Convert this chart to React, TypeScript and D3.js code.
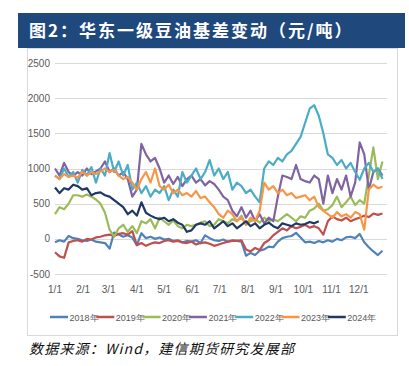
import * as d3 from 'd3';
import React from 'react';

// basis values sampled every 5 days from 1/1 (day 0) to 12/27 (day 360)
const STEP_DAYS = 5;

const s2018 = [-50, -20, -40, 40, 10, 0, -20, -30, -10, -40, -50, -60, -140, 90, 60, 30, 50, 20, -90, 80, 10, 30, 0, 20, -10, 0, -30, -20, -50, -30, -40, -20, -60, 50, 10, -20, -30, -10, -40, -20, -30, -40, -240, -200, -230, -170, -150, -110, -120, -40, 10, 30, 40, 85, 20, -50, -40, -60, -30, -50, -20, -40, 0, -20, 20, 30, 10, 70, -50, -120, -180, -230, -170];
const s2019 = [-190, -250, -270, -50, -30, -20, -40, 0, -10, 20, 30, 50, 60, 40, 70, 80, 60, 110, -90, -60, -100, -70, -50, -60, -30, -20, -40, -30, -50, -60, -40, -80, -60, -50, -70, -100, -80, -60, -40, -30, -30, -20, -150, -180, -130, -160, -60, -20, 50, 100, 150, 120, 180, 150, 170, 200, 160, 180, 150, 60, 250, 320, 280, 260, 300, 250, 280, 300, 330, 310, 360, 340, 360];
const s2020 = [350, 450, 420, 500, 620, 620, 600, 630, 600, 560, 500, 370, 130, 30, 150, 200, 100, 180, 80, 250, 220, 280, 150, 300, 250, 200, 260, 180, 150, 200, 180, 200, 230, 250, 180, 200, 280, 250, 220, 280, 250, 330, 200, 250, 280, 230, 300, 250, 280, 250, 300, 350, 300, 250, 320, 300, 400, 430, 500, 400, 420, 480, 600, 450, 520, 600, 480, 550, 500, 900, 1300, 850, 1100];
const s2021 = [1000, 900, 1080, 950, 900, 950, 900, 1000, 920, 960, 1000, 1100, 950, 1000, 900, 950, 850, 600, 700, 1350, 1200, 1100, 1150, 1000, 800, 900, 780, 880, 750, 850, 900, 800, 850, 760, 820, 780, 700, 600, 550, 400, 320, 450, 300, 400, 250, 350, 220, 300, 250, 600, 900, 880, 850, 1050, 850, 820, 800, 900, 850, 500, 900, 650, 850, 700, 900, 600, 800, 1370, 1200, 700, 950, 1000, 900];
const s2022 = [900, 850, 1000, 880, 950, 800, 980, 900, 1020, 800, 1000, 900, 1220, 950, 1100, 900, 1050, 700, 800, 650, 750, 600, 700, 650, 750, 550, 700, 600, 950, 800, 900, 1000, 850, 950, 1120, 900, 1000, 850, 950, 700, 800, 750, 650, 700, 600, 520, 1000, 1100, 1050, 1150, 1100, 1200, 1250, 1350, 1450, 1650, 1850, 1900, 1750, 1500, 1200, 1150, 1050, 1120, 1000, 1080, 950, 840, 1000, 1080, 950, 1000, 850];
const s2023 = [900, 850, 920, 880, 900, 870, 950, 900, 950, 920, 960, 1000, 950, 980, 900, 850, 880, 800, 700, 850, 950, 800, 1000, 750, 700, 770, 650, 700, 620, 650, 600, 680, 580, 600, 520, 450, 350, 300, 400, 350, 250, 300, 200, 300, 250, 400, 800, 700, 750, 650, 700, 620, 650, 580, 600, 620, 550, 600, 450, 400, 350, 300, 380, 320, 350, 300, 380, 350, 130, 700, 770, 720, 740];
const s2024 = [730, 650, 720, 700, 770, 750, 700, 720, 620, 650, 660, 620, 600, 550, 500, 450, 350, 400, 330, 520, 370, 330, 300, 280, 300, 250, 280, 230, 200, 100, 120, 200, 220, 200, 250, 150, 200, 250, 180, 220, 150, 200, 250, 180, 220, 150, 200, 230, 180, 150, 220, 200, 180, 220, 200, 210, 240, 220, 250];

const seriesNames = ['2018年', '2019年', '2020年', '2021年', '2022年', '2023年', '2024年'];
const seriesValues = [s2018, s2019, s2020, s2021, s2022, s2023, s2024];
const seriesColors = ['#4F81BD', '#C0504D', '#9BBB59', '#8064A2', '#4BACC6', '#F79646', '#203864'];

const yTicks = [-500, 0, 500, 1000, 1500, 2000, 2500];
const monthLabels = ['1/1', '2/1', '3/1', '4/1', '5/1', '6/1', '7/1', '8/1', '9/1', '10/1', '11/1', '12/1'];
const monthStartDays = [0, 31, 59, 90, 120, 151, 181, 212, 243, 273, 304, 334];

const titleText = '图2：华东一级豆油基差变动（元/吨）';
const sourceText = '数据来源：Wind，建信期货研究发展部';

const W = 409;
const H = 366;
const axisFont = '"Liberation Sans Narrow", "Arial Narrow", "Liberation Sans", sans-serif';

export default function App() {
  const x = d3.scaleLinear().domain([0, 365]).range([55, 387]);
  const y = d3.scaleLinear().domain([-500, 2500]).range([274, 63]);

  const line = d3.line<number>()
    .x((_, i) => x(i * STEP_DAYS))
    .y(d => y(d));

  return (
    <div>
      <svg width={W} height={H} style={{ position: 'absolute', left: 0, top: 0 }}>
        <rect x={0} y={0} width={W} height={H} fill="#fff" />
        {/* title bar */}
        <rect x={18} y={13} width={387} height={35} fill="#1F497D" />
        <text x={29} y={37} fill="#fff" fontSize={17} fontWeight="bold" letterSpacing={2}
          fontFamily='"Noto Sans CJK SC", sans-serif'>{titleText}</text>

        {/* chart frame */}
        <rect x={27.5} y={48.5} width={370} height={287} fill="none" stroke="#D9D9D9" />

        {/* grid + y labels */}
        {yTicks.map(t => (
          <g key={t}>
            <line x1={55} x2={387} y1={Math.round(y(t)) + 0.5} y2={Math.round(y(t)) + 0.5} stroke="#D9D9D9" />
            <text x={50} y={y(t) + 3.5} textAnchor="end" fontSize={10} fill="#595959" fontFamily={axisFont}>{t}</text>
          </g>
        ))}

        {/* x labels */}
        {monthLabels.map((m, i) => (
          <text key={m} x={x(monthStartDays[i])} y={293} textAnchor="middle" fontSize={10} fill="#595959" fontFamily={axisFont}>{m}</text>
        ))}

        {/* series */}
        {seriesValues.map((vals, i) => (
          <path key={seriesNames[i]} d={line(vals) ?? ''} fill="none" stroke={seriesColors[i]} strokeWidth={2.2} strokeLinejoin="round" />
        ))}

        {/* legend */}
        {seriesNames.map((n, i) => {
          const lx = 50 + i * 46.3;
          return (
            <g key={n}>
              <line x1={lx} x2={lx + 18} y1={317} y2={317} stroke={seriesColors[i]} strokeWidth={2.5} />
              <text x={lx + 19.5} y={320.5} fontSize={9} fill="#595959" fontFamily={axisFont}>{n}</text>
            </g>
          );
        })}

        {/* source */}
        <text x={29} y={354} fontSize={14} fontStyle="italic" fill="#111" letterSpacing={1.2}
          fontFamily='"Noto Sans CJK SC", sans-serif'>{sourceText}</text>
      </svg>
    </div>
  );
}
